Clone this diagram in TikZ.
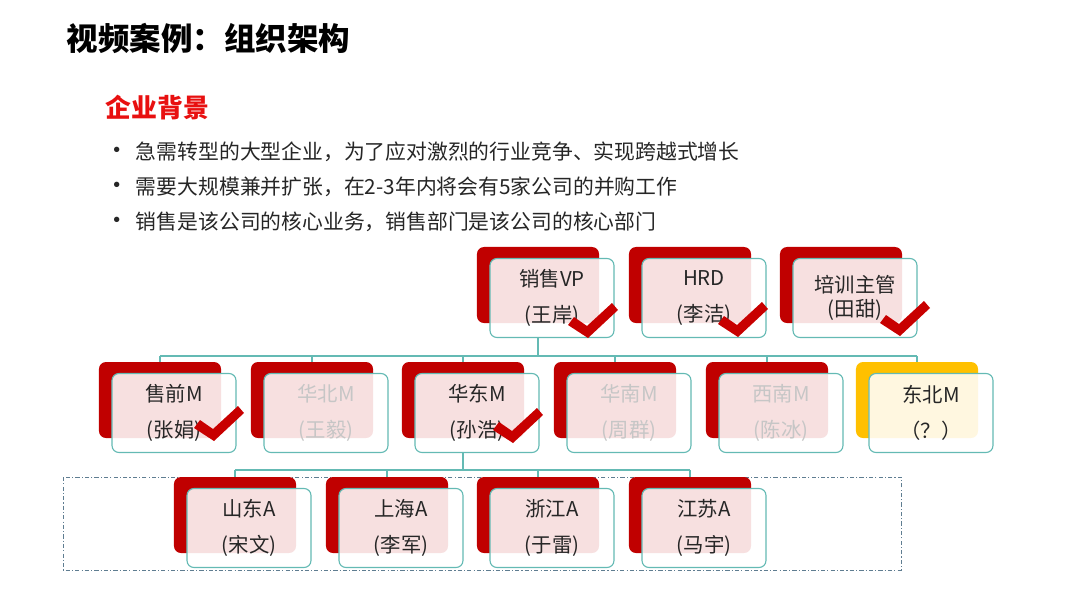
\documentclass[tikz,border=0pt]{standalone}
\usepackage{fontspec}
\setmainfont{Noto Sans CJK SC}
\usetikzlibrary{positioning}

\definecolor{unitred}{RGB}{192,0,0}
\definecolor{unitgold}{RGB}{255,192,0}
\definecolor{cardline}{RGB}{100,186,180}
\definecolor{framec}{RGB}{95,125,145}
\definecolor{tickred}{RGB}{200,0,0}
\definecolor{headred}{RGB}{232,16,16}
\definecolor{ink}{RGB}{38,38,38}
\definecolor{faintgray}{RGB}{198,198,198}

\tikzset{
  checkmark/.pic={
    \fill[tickred] (-19,-8) -- (-13,-16) -- (0,-7) -- (25,-30)
      -- (31,-23) -- (1,5) -- cycle;
  }
}

\begin{document}
\begin{tikzpicture}[
  x=0.025cm, y=-0.025cm,
  every node/.style={font=\fontsize{14.5}{26}\selectfont, text=ink},
  %% -- box styles --------------------------------------------------------
  unit/.style={
    fill=unitred, rounded corners=5pt,
    minimum width=3.05cm, minimum height=1.9cm, inner sep=0pt
  },
  unitg/.style={unit, fill=unitgold},
  card/.style={
    draw=cardline, line width=0.8pt, rounded corners=5pt,
    fill=white, fill opacity=0.88, text opacity=1,
    minimum width=3.1cm, minimum height=1.975cm,
    align=center, inner sep=0pt
  },
  faint/.style={text=faintgray},
  %% -- line styles -------------------------------------------------------
  link/.style={draw=cardline, line width=1pt},
  frame/.style={
    draw=framec, line width=0.6pt,
    dash pattern=on 3pt off 1.5pt on 0.8pt off 1.5pt
  },
  %% -- text styles -------------------------------------------------------
  item/.style={anchor=west, font=\fontsize{14.8}{18}\selectfont},
  dot/.style={font=\fontsize{18}{20}\selectfont},
]
\useasboundingbox (0,0) rectangle (1080,608);

%% ======================================================================
%% HEADINGS
%% ======================================================================
\node[anchor=west, text=black, font=\fontsize{22.4}{26}\selectfont\bfseries]
  (title) at (62,38) {视频案例：组织架构};

\node[anchor=west, text=headred, font=\fontsize{18.4}{22}\selectfont\bfseries]
  (bg) at (101,108) {企业背景};

\node[dot] (d1) at (117,153) {•};
\node[dot] (d2) at (117,188) {•};
\node[dot] (d3) at (117,223) {•};
\node[item] (t1) at (131,152) {急需转型的大型企业，为了应对激烈的行业竞争、实现跨越式增长};
\node[item] (t2) at (131,187) {需要大规模兼并扩张，在2-3年内将会有5家公司的并购工作};
\node[item] (t3) at (131,222) {销售是该公司的核心业务，销售部门是该公司的核心部门};

%% ======================================================================
%% ACQUISITION FRAME
%% ======================================================================
\draw[frame] (63,477) rectangle (901,570);

%% ======================================================================
%% TOP ROW
%% ======================================================================
\node[unit] (vp)  at (538,285) {};
\node[unit] (hrd) at (690,285) {};
\node[unit] (px)  at (841,285) {};

\node[card] (vpc)  at ([shift={(14,13)}]vp.center)  {销售VP\\(王岸)};
\node[card] (hrdc) at ([shift={(14,13)}]hrd.center) {HRD\\(李洁)};
\node[card] (pxc)  at ([shift={(14,13)}]px.center)  {培训主管\\[-9pt](田甜)};

%% ======================================================================
%% MIDDLE ROW
%% ======================================================================
\node[unit]  (sq) at (160,400) {};
\node[unit]  (hb) at (312,400) {};
\node[unit]  (hd) at (463,400) {};
\node[unit]  (hn) at (615,400) {};
\node[unit]  (xn) at (767,400) {};
\node[unitg] (db) at (917,400) {};

\node[card]        (sqc) at ([shift={(14,13)}]sq.center) {售前M\\(张娟)};
\node[card, faint] (hbc) at ([shift={(14,13)}]hb.center) {华北M\\(王毅)};
\node[card]        (hdc) at ([shift={(14,13)}]hd.center) {华东M\\(孙浩)};
\node[card, faint] (hnc) at ([shift={(14,13)}]hn.center) {华南M\\(周群)};
\node[card, faint] (xnc) at ([shift={(14,13)}]xn.center) {西南M\\(陈冰)};
\node[card]        (dbc) at ([shift={(14,13)}]db.center) {东北M\\（？）};

%% ======================================================================
%% BOTTOM ROW
%% ======================================================================
\node[unit] (sd) at (235,515) {};
\node[unit] (sh) at (387,515) {};
\node[unit] (zj) at (538,515) {};
\node[unit] (js) at (690,515) {};

\node[card] (sdc) at ([shift={(14,13)}]sd.center) {山东A\\(宋文)};
\node[card] (shc) at ([shift={(14,13)}]sh.center) {上海A\\(李军)};
\node[card] (zjc) at ([shift={(14,13)}]zj.center) {浙江A\\(于雷)};
\node[card] (jsc) at ([shift={(14,13)}]js.center) {江苏A\\(马宇)};

%% ======================================================================
%% CONNECTORS
%% ======================================================================
\coordinate (busT) at (538,356);
\coordinate (busB) at (463,470);

\draw[link] (vpc.south -| vp) -- (busT);
\draw[link] (sq |- busT) -- (db |- busT);
\draw[link] (sq |- busT) -- (sq.north);
\draw[link] (hb |- busT) -- (hb.north);
\draw[link] (hd |- busT) -- (hd.north);
\draw[link] (hn |- busT) -- (hn.north);
\draw[link] (xn |- busT) -- (xn.north);
\draw[link] (db |- busT) -- (db.north);

\draw[link] (hdc.south -| hd) -- (busB);
\draw[link] (sd |- busB) -- (js |- busB);
\draw[link] (sd |- busB) -- (sd.north);
\draw[link] (sh |- busB) -- (sh.north);
\draw[link] (zj |- busB) -- (zj.north);
\draw[link] (js |- busB) -- (js.north);

%% ======================================================================
%% TICKS
%% ======================================================================
\pic at (587,333) {checkmark};
\pic at (737,332) {checkmark};
\pic at (899,331) {checkmark};
\pic at (213,436) {checkmark};
\pic at (512,438) {checkmark};

\end{tikzpicture}
\end{document}
